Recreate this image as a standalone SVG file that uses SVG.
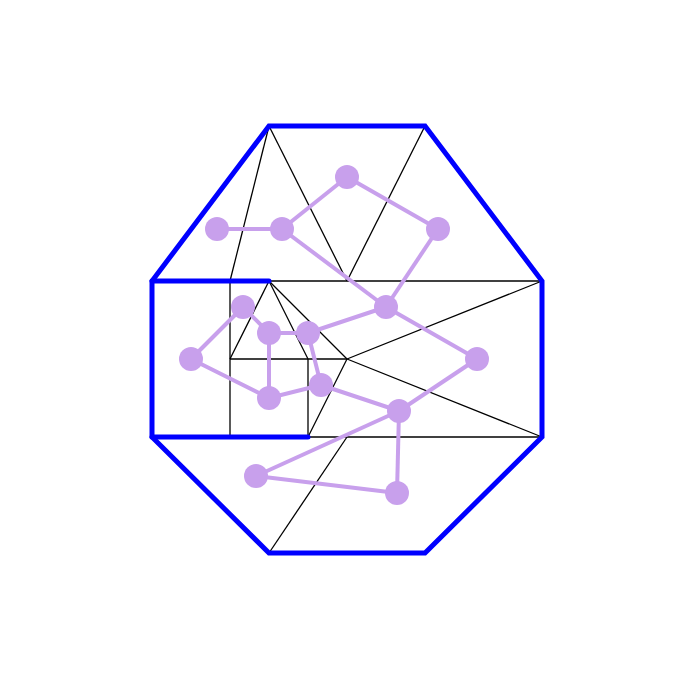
<svg xmlns="http://www.w3.org/2000/svg" width="677" height="673" viewBox="0 0 677 673">
<style>
.bd{fill:none;stroke:#0000ff;stroke-width:5;stroke-linejoin:miter;stroke-linecap:round}
.mesh line{stroke:#000;stroke-width:1.3}
.edges line{stroke:#c8a0ec;stroke-width:4}
.node circle{fill:#c8a0ec}
</style>
<rect width="677" height="673" fill="#fff"/>
<g class="mesh">
<line x1="269" y1="126" x2="230" y2="281"/>
<line x1="269" y1="126" x2="347" y2="281"/>
<line x1="425" y1="126" x2="347" y2="281"/>
<line x1="269" y1="281" x2="542" y2="281"/>
<line x1="230" y1="281" x2="230" y2="437"/>
<line x1="269" y1="281" x2="230" y2="359"/>
<line x1="269" y1="281" x2="308" y2="359"/>
<line x1="269" y1="281" x2="347" y2="359"/>
<line x1="230" y1="359" x2="347" y2="359"/>
<line x1="308" y1="359" x2="308" y2="437"/>
<line x1="347" y1="359" x2="308" y2="437"/>
<line x1="347" y1="359" x2="542" y2="281"/>
<line x1="347" y1="359" x2="542" y2="437"/>
<line x1="308" y1="437" x2="542" y2="437"/>
<line x1="347" y1="437" x2="269" y2="553"/>
</g>
<g id="boundary">
<polygon class="bd" points="269,126 425,126 542,281 542,437 425,553 269,553 152,437 152,281"/>
<polyline class="bd" points="152,281 269,281"/>
<polyline class="bd" points="152,437 308,437"/>
</g>
<g class="edges">
<line x1="217" y1="229" x2="282" y2="229"/>
<line x1="282" y1="229" x2="347" y2="177"/>
<line x1="347" y1="177" x2="438" y2="229"/>
<line x1="438" y1="229" x2="386" y2="307"/>
<line x1="282" y1="229" x2="386" y2="307"/>
<line x1="386" y1="307" x2="308" y2="333"/>
<line x1="386" y1="307" x2="477" y2="359"/>
<line x1="308" y1="333" x2="269" y2="333"/>
<line x1="269" y1="333" x2="243" y2="307"/>
<line x1="243" y1="307" x2="191" y2="359"/>
<line x1="191" y1="359" x2="269" y2="398"/>
<line x1="269" y1="398" x2="269" y2="333"/>
<line x1="269" y1="398" x2="321" y2="385"/>
<line x1="321" y1="385" x2="308" y2="333"/>
<line x1="321" y1="385" x2="399" y2="411"/>
<line x1="399" y1="411" x2="477" y2="359"/>
<line x1="399" y1="411" x2="256" y2="476"/>
<line x1="399" y1="411" x2="397" y2="493"/>
<line x1="256" y1="476" x2="397" y2="493"/>
</g>
<g id="n1" class="node"><circle cx="217" cy="229" r="12"/></g>
<g id="n2" class="node"><circle cx="282" cy="229" r="12"/></g>
<g id="n3" class="node"><circle cx="347" cy="177" r="12"/></g>
<g id="n4" class="node"><circle cx="438" cy="229" r="12"/></g>
<g id="n5" class="node"><circle cx="386" cy="307" r="12"/></g>
<g id="n6" class="node"><circle cx="477" cy="359" r="12"/></g>
<g id="n7" class="node"><circle cx="308" cy="333" r="12"/></g>
<g id="n8" class="node"><circle cx="269" cy="333" r="12"/></g>
<g id="n9" class="node"><circle cx="243" cy="307" r="12"/></g>
<g id="n10" class="node"><circle cx="191" cy="359" r="12"/></g>
<g id="n11" class="node"><circle cx="269" cy="398" r="12"/></g>
<g id="n12" class="node"><circle cx="321" cy="385" r="12"/></g>
<g id="n13" class="node"><circle cx="399" cy="411" r="12"/></g>
<g id="n14" class="node"><circle cx="256" cy="476" r="12"/></g>
<g id="n15" class="node"><circle cx="397" cy="493" r="12"/></g>
</svg>
